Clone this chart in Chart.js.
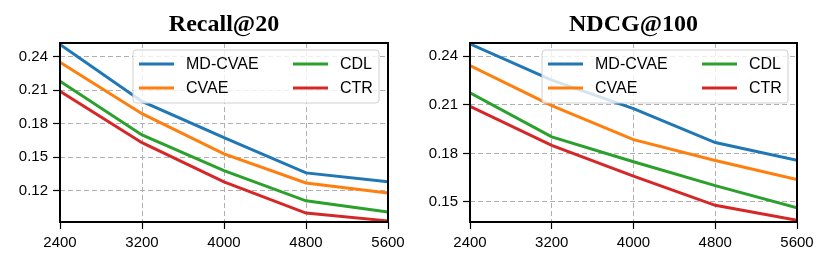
<!DOCTYPE html>
<html>
<head>
<meta charset="utf-8">
<script src="https://cdn.jsdelivr.net/npm/chart.js@4.4.0/dist/chart.umd.min.js"></script>
<style>
  html, body { margin: 0; padding: 0; background: #fff; }
  body { width: 830px; height: 267px; position: relative; overflow: hidden; }
  .box { position: absolute; top: 0; width: 415px; height: 267px; }
</style>
</head>
<body>
<div class="box" style="left:0"><canvas id="recall" width="415" height="267"></canvas></div>
<div class="box" style="left:415px"><canvas id="ndcg" width="415" height="267"></canvas></div>
<script>
// data
const xValues = [2400, 3200, 4000, 4800, 5600];
const seriesNames = ['MD-CVAE', 'CVAE', 'CDL', 'CTR'];
const seriesColors = ['#1f77b4', '#ff7f0e', '#2ca02c', '#d62728'];

const recallMdcvae = [0.251, 0.200, 0.1675, 0.136, 0.128];
const recallCvae   = [0.235, 0.189, 0.153, 0.127, 0.118];
const recallCdl    = [0.218, 0.170, 0.138, 0.111, 0.101];
const recallCtr    = [0.209, 0.163, 0.128, 0.100, 0.093];

const ndcgMdcvae = [0.2476, 0.2252, 0.2077, 0.1867, 0.1758];
const ndcgCvae   = [0.2342, 0.2095, 0.1885, 0.1756, 0.1638];
const ndcgCdl    = [0.2174, 0.1902, 0.1748, 0.1601, 0.1463];
const ndcgCtr    = [0.2091, 0.1850, 0.1659, 0.1479, 0.1387];

const xTicks = [2400, 3200, 4000, 4800, 5600];
const recallTicks = [0.12, 0.15, 0.18, 0.21, 0.24];
const ndcgTicks = [0.15, 0.18, 0.21, 0.24];

// title, frame and legend drawn over the plot
const framePlugin = {
  id: 'frame',
  afterDraw(chart, args, opts) {
    const ctx = chart.ctx;
    const a = chart.chartArea;
    ctx.save();
    // title
    ctx.fillStyle = '#000';
    ctx.font = 'bold 24px "Liberation Serif", "Times New Roman", serif';
    ctx.textAlign = 'center';
    ctx.textBaseline = 'alphabetic';
    ctx.fillText(opts.title, (a.left + a.right) / 2, 31);

    // legend
    const bw = 246, bh = 53;
    const bx = a.right - 9 - bw, by = a.top + 7;
    ctx.beginPath();
    ctx.roundRect(bx, by, bw, bh, 3);
    ctx.fillStyle = 'rgba(255,255,255,0.8)';
    ctx.fill();
    ctx.strokeStyle = '#d0d0d0';
    ctx.lineWidth = 1;
    ctx.stroke();
    ctx.font = '16px "Liberation Sans", Arial, sans-serif';
    ctx.textAlign = 'left';
    ctx.textBaseline = 'middle';
    chart.data.datasets.forEach((ds, i) => {
      const col = Math.floor(i / 2), row = i % 2;
      const lx = bx + 6 + col * 154;
      const ly = by + 14 + row * 24;
      ctx.strokeStyle = ds.borderColor;
      ctx.lineWidth = 3;
      ctx.beginPath();
      ctx.moveTo(lx, ly);
      ctx.lineTo(lx + 35, ly);
      ctx.stroke();
      ctx.fillStyle = '#000';
      ctx.fillText(ds.label, lx + 47, ly + 1);
    });

    // axes frame
    ctx.strokeStyle = '#000';
    ctx.lineWidth = 2;
    ctx.strokeRect(a.left, a.top, a.right - a.left, a.bottom - a.top);
    ctx.restore();
  }
};

function makeChart(id, title, series, yTicks, yMin, yMax, leftW, rightPad) {
  const datasets = series.map((vals, i) => ({
    label: seriesNames[i],
    data: xValues.map((x, j) => ({ x: x, y: vals[j] })),
    borderColor: seriesColors[i],
    backgroundColor: seriesColors[i],
    borderWidth: 3,
    pointRadius: 0,
    tension: 0,
    order: series.length - i
  }));
  const tickFont = { family: '"Liberation Sans", Arial, sans-serif', size: 15 };
  const grid = {
    color: '#b0b0b0',
    lineWidth: 1,
    tickColor: '#000',
    tickWidth: 1.2,
    tickLength: 7
  };
  return new Chart(document.getElementById(id), {
    type: 'line',
    data: { datasets: datasets },
    options: {
      responsive: false,
      animation: false,
      layout: { padding: { left: 0, right: rightPad, top: 43, bottom: 0 } },
      plugins: {
        legend: { display: false },
        tooltip: { enabled: false },
        frame: { title: title }
      },
      scales: {
        x: {
          type: 'linear',
          min: 2400,
          max: 5600,
          grid: grid,
          border: { display: false, dash: [5, 3] },
          afterBuildTicks: s => { s.ticks = xTicks.map(v => ({ value: v })); },
          afterFit: s => { s.height = 45; },
          ticks: { color: '#000', font: tickFont, padding: 5, maxRotation: 0,
                   callback: v => String(v) }
        },
        y: {
          min: yMin,
          max: yMax,
          grid: grid,
          border: { display: false, dash: [5, 3] },
          afterBuildTicks: s => { s.ticks = yTicks.map(v => ({ value: v })); },
          afterFit: s => { s.width = leftW; },
          ticks: { color: '#000', font: tickFont, padding: 5,
                   callback: v => v.toFixed(2) }
        }
      }
    },
    plugins: [framePlugin]
  });
}

makeChart('recall', 'Recall@20',
  [recallMdcvae, recallCvae, recallCdl, recallCtr],
  recallTicks, 0.092, 0.2523, 60, 27);

makeChart('ndcg', 'NDCG@100',
  [ndcgMdcvae, ndcgCvae, ndcgCdl, ndcgCtr],
  ndcgTicks, 0.1376, 0.2482, 55, 33);
</script>
</body>
</html>
